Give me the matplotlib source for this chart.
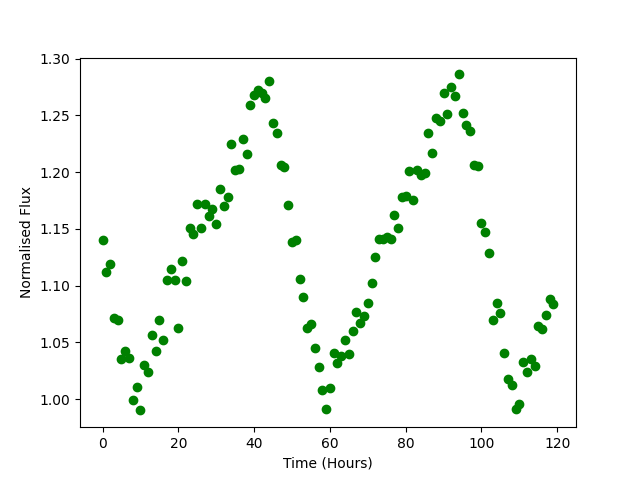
import numpy as np
import matplotlib.pyplot as plt

# Time in hours, one reading per hour
hours = np.arange(0, 120)

# Normalised flux
flux = [1.140, 1.112, 1.119, 1.071, 1.070, 1.035, 1.042, 1.036, 0.999, 1.011,
        0.990, 1.030, 1.024, 1.056, 1.042, 1.070, 1.052, 1.105, 1.115, 1.105,
        1.063, 1.122, 1.104, 1.151, 1.145, 1.172, 1.151, 1.172, 1.161, 1.167,
        1.154, 1.185, 1.170, 1.178, 1.225, 1.202, 1.203, 1.229, 1.216, 1.259,
        1.268, 1.272, 1.270, 1.265, 1.280, 1.243, 1.234, 1.206, 1.204, 1.171,
        1.138, 1.140, 1.106, 1.090, 1.063, 1.066, 1.045, 1.028, 1.008, 0.991,
        1.010, 1.041, 1.032, 1.038, 1.052, 1.040, 1.060, 1.077, 1.067, 1.073,
        1.085, 1.102, 1.125, 1.141, 1.141, 1.143, 1.141, 1.162, 1.151, 1.178,
        1.179, 1.201, 1.175, 1.202, 1.197, 1.199, 1.234, 1.217, 1.248, 1.245,
        1.270, 1.251, 1.275, 1.267, 1.286, 1.252, 1.241, 1.236, 1.206, 1.205,
        1.155, 1.147, 1.129, 1.070, 1.085, 1.076, 1.041, 1.018, 1.012, 0.991,
        0.996, 1.033, 1.024, 1.035, 1.029, 1.064, 1.062, 1.074, 1.088, 1.084]

plt.figure(figsize=(6.4, 4.8), dpi=100)
plt.plot(hours, flux, 'o', color='green')
plt.xlabel('Time (Hours)')
plt.ylabel('Normalised Flux')
plt.savefig('out.png', dpi=100)
